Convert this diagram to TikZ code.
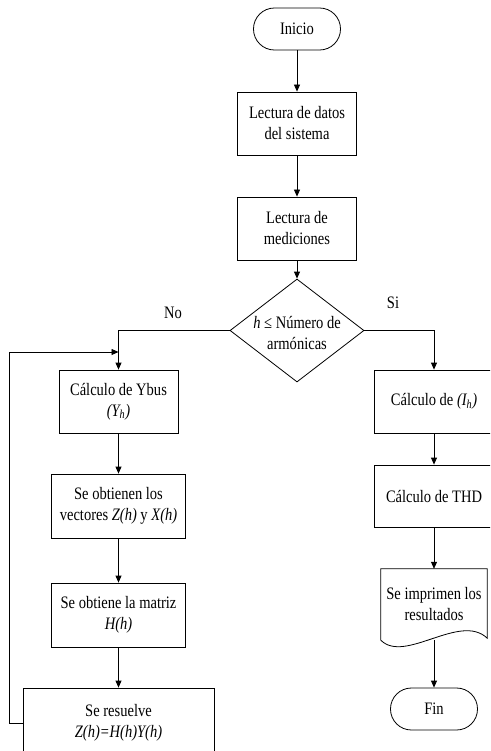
\documentclass[tikz,border=0pt]{standalone}
\usepackage{fontspec}
\setmainfont[FakeStretch=0.83]{Liberation Serif}
\usetikzlibrary{arrows.meta,shapes.geometric}
\newcommand\flowfs{\fontsize{17.5}{21}\selectfont}
\tikzset{
  box/.style={draw, line width=0.8pt, align=center, inner sep=0pt, font=\flowfs},
  term/.style={box, rounded corners=20.9pt},
  plain/.style={align=center, inner sep=0pt, font=\flowfs},
  arr/.style={draw, line width=0.8pt, -{Triangle[length=7pt,width=6pt]}}
}
\begin{document}
\begin{tikzpicture}[x=1pt,y=1pt]
\useasboundingbox (0,0) rectangle (490,-751);
\clip (0,0) rectangle (490,-751);
% main column
\node[term, minimum width=87pt, minimum height=42pt] (ini) at (297,-29) {Inicio};
\node[box, minimum width=119pt, minimum height=63pt] (b1) at (297,-123.5) {Lectura de datos\\del sistema};
\node[box, minimum width=119pt, minimum height=63pt] (b2) at (297,-228.5) {Lectura de\\mediciones};
\node[diamond, draw, line width=0.8pt, minimum width=134pt, minimum height=103pt, inner sep=0pt] (dec) at (297,-330.5) {};
\node[plain] (dect) at (297,-333) {\textit{h} ≤ Número de\\armónicas};
% left column
\node[box, minimum width=119pt, minimum height=63pt] (ybus) at (118.5,-401.5) {Cálculo de Ybus\\\textit{(Y\textsubscript{h})}};
\node[box, minimum width=134pt, minimum height=64pt] (vec) at (118.5,-506) {Se obtienen los\\vectores \textit{Z(h)} y \textit{X(h)}};
\node[box, minimum width=134pt, minimum height=64pt] (mat) at (118.5,-615) {Se obtiene la matriz\\\textit{H(h)}};
\node[box, minimum width=191pt, minimum height=70pt] (res) at (118.5,-723) {Se resuelve\\\textit{Z(h)=H(h)Y(h)}};
\coordinate (lp) at (118.5,-352);
% right column
\node[box, minimum width=120pt, minimum height=63pt] (ih) at (434,-401.5) {Cálculo de \textit{(I\textsubscript{h})}};
\node[box, minimum width=120pt, minimum height=62pt] (thd) at (434,-496) {Cálculo de THD};
\node[plain, minimum width=106pt, minimum height=71pt] (doc) at (434,-604.5) {Se imprimen los\\resultados};
\draw[line width=0.8pt] (doc.south west) -- (doc.north west) -- (doc.north east) -- ([yshift=2pt]doc.south east)
  .. controls +(-27,26) and +(24,-24) .. (doc.south west) -- cycle;
\node[term, minimum width=87pt, minimum height=42pt] (fin) at (434,-709) {Fin};
% labels
\node[plain] (no) at (173,-313) {No};
\node[plain] (si) at (393,-303) {Si};
% connectors
\draw[arr] (ini) -- (b1);
\draw[arr] (b1) -- (b2);
\draw[arr] (b2) -- (dec.north);
\draw[arr] (dec.west) -| (ybus.north);
\draw[arr] (dec.east) -| (ih.north);
\draw[arr] (ybus) -- (vec);
\draw[arr] (vec) -- (mat);
\draw[arr] (mat) -- (res);
\draw[arr] (res.west) -- ++(-13,0) |- (lp);
\draw[arr] (ih) -- (thd);
\draw[arr] (thd) -- (doc.north);
\draw[arr] (doc.south) -- (fin.north);
\end{tikzpicture}
\end{document}
